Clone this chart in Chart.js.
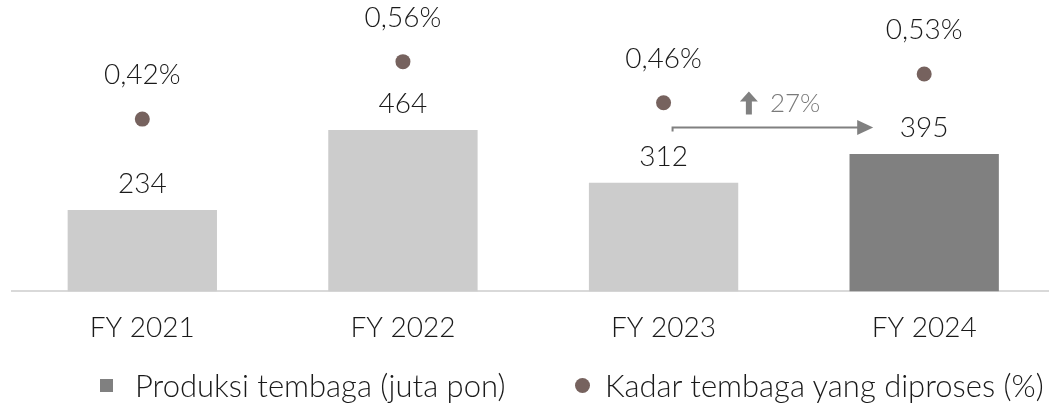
<!DOCTYPE html>
<html>
<head>
<meta charset="utf-8">
<script src="https://cdn.jsdelivr.net/npm/chart.js@4/dist/chart.umd.min.js"></script>
<style>
html,body{margin:0;padding:0;background:#fff;overflow:hidden;width:1049px;height:408px;}
#wrap{position:absolute;left:0;top:0;width:1062px;height:408px;}
#legend{position:absolute;left:0;top:366px;width:1049px;height:40px;font-family:Lato,sans-serif;font-weight:300;font-size:31px;color:#1a1a1a;}
.li{position:absolute;top:0;line-height:38px;white-space:nowrap;}
.sq{position:absolute;width:13px;height:13px;background:#808080;}
.dot{position:absolute;width:15px;height:15px;border-radius:50%;background:#76625e;}
</style>
</head>
<body>
<div id="wrap"><canvas id="c"></canvas></div>
<div id="legend">
  <div class="sq" style="left:100px;top:13px;"></div>
  <div class="li" id="l1" style="left:135px;">Produksi tembaga (juta pon)</div>
  <div class="dot" style="left:575px;top:12px;"></div>
  <div class="li" id="l2" style="left:605px;">Kadar tembaga yang diproses (%)</div>
</div>
<script>
const categories = ['FY 2021','FY 2022','FY 2023','FY 2024'];
const production = [234, 464, 312, 395];
const productionLabels = ['234','464','312','395'];
const grade = [0.42, 0.56, 0.46, 0.53];
const gradeLabels = ['0,42%','0,56%','0,46%','0,53%'];
const barColors = ['#cccccc','#cccccc','#cccccc','#808080'];
const growthLabel = '27%';
const growthFrom = 2, growthTo = 3, growthLevel = 473;

const FONT = 'Lato, sans-serif';

const labelPlugin = {
  id: 'labels',
  afterDatasetsDraw(chart) {
    const ctx = chart.ctx;
    ctx.save();
    ctx.font = '300 28px ' + FONT;
    ctx.fillStyle = '#1a1a1a';
    ctx.textAlign = 'center';
    ctx.textBaseline = 'middle';
    const bars = chart.getDatasetMeta(0).data;
    bars.forEach((b, i) => ctx.fillText(productionLabels[i], b.x, b.y - 26));
    const pts = chart.getDatasetMeta(1).data;
    pts.forEach((p, i) => ctx.fillText(gradeLabels[i], p.x, p.y - 44));

    // growth arrow
    const xs = chart.scales.x, ys = chart.scales.y;
    const x0 = xs.getPixelForValue(growthFrom) + 9;
    const x1 = xs.getPixelForValue(growthTo) - 51;
    const y = Math.round(ys.getPixelForValue(growthLevel)) + 0.5;
    ctx.strokeStyle = '#808080';
    ctx.fillStyle = '#808080';
    ctx.lineWidth = 2;
    ctx.beginPath();
    ctx.moveTo(x0, y + 4); ctx.lineTo(x0, y); ctx.lineTo(x1 - 14, y);
    ctx.stroke();
    ctx.beginPath();
    ctx.moveTo(x1, y); ctx.lineTo(x1 - 16, y - 7.5); ctx.lineTo(x1 - 16, y + 7.5); ctx.closePath();
    ctx.fill();
    // up arrow icon
    const ax = (x0 + x1) / 2 - 24, ay = y - 36;
    ctx.beginPath();
    ctx.moveTo(ax, ay); ctx.lineTo(ax + 9, ay + 10); ctx.lineTo(ax + 3, ay + 10);
    ctx.lineTo(ax + 3, ay + 23); ctx.lineTo(ax - 3, ay + 23); ctx.lineTo(ax - 3, ay + 10);
    ctx.lineTo(ax - 9, ay + 10); ctx.closePath();
    ctx.fill();
    ctx.font = '300 26px ' + FONT;
    ctx.fillStyle = '#7a7a7a';
    ctx.textAlign = 'left';
    ctx.fillText(growthLabel, ax + 21, ay + 12);
    ctx.restore();
  }
};

new Chart(document.getElementById('c'), {
  data: {
    labels: categories,
    datasets: [
      { type: 'bar', label: 'Produksi tembaga (juta pon)', data: production,
        backgroundColor: barColors, barPercentage: 0.573, categoryPercentage: 1, yAxisID: 'y', order: 2 },
      { type: 'line', label: 'Kadar tembaga yang diproses (%)', data: grade, showLine: false,
        pointRadius: 7.5, pointHoverRadius: 7.5, pointBackgroundColor: '#76625e', pointBorderWidth: 0,
        borderColor: '#76625e', yAxisID: 'y2', order: 1 }
    ]
  },
  options: {
    responsive: true,
    maintainAspectRatio: false,
    animation: false,
    events: [],
    layout: { padding: { left: 12, right: 3, top: 0, bottom: 43 } },
    plugins: { legend: { display: false }, tooltip: { enabled: false } },
    scales: {
      x: {
        grid: { display: false, drawTicks: false },
        border: { display: true, color: '#d9d9d9', width: 2 },
        ticks: { font: { family: FONT, size: 28, weight: 300 }, color: '#1a1a1a', padding: 20 }
      },
      y: { display: false, min: 0, max: 816 },
      y2: { display: false, min: 0, max: 0.692 }
    }
  },
  plugins: [labelPlugin]
});
</script>
</body>
</html>
